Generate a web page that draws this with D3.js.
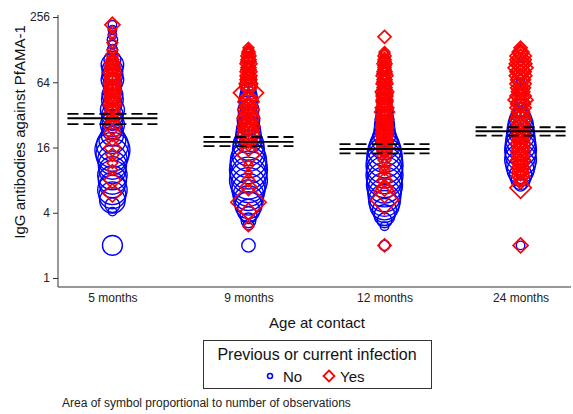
<!DOCTYPE html>
<html>
<head>
<meta charset="utf-8">
<script src="https://cdn.jsdelivr.net/npm/d3@7"></script>
<style>
  body { margin: 0; background: #fff; }
  svg { display: block; font-family: "Liberation Sans", Arial, sans-serif; }
</style>
</head>
<body>
<svg id="chart" width="573" height="414"></svg>
<script>
// Age groups and y-axis ticks
const categories = ["5 months", "9 months", "12 months", "24 months"];
const yTicks = [1, 4, 16, 64, 256];

// Geometric mean titre per age group with its 95% confidence limits
const geoMean = [29.8, 18.0, 15.5, 22.6];
const ciLow   = [26.3, 16.5, 14.1, 20.6];
const ciHigh  = [32.7, 20.0, 17.2, 24.6];

// [titre, number of observations] — no previous or current infection
const noInf5 = [[217,2],[195,2],[175,2],[158,3],[142,2],[127,3],[115,3],[103,8],[92.7,14],[83.3,12],[74.9,12],[67.4,14],[60.6,10],[54.5,8],[49,12],[44,13],[39.6,10],[35.6,16],[32,13],[28.8,12],[25.9,16],[23.3,12],[20.9,14],[18.8,20],[16.9,28],[15.2,34],[13.7,30],[12.3,24],[11,22],[9.9,20],[8.9,24],[8,22],[7.2,18],[6.5,24],[5.8,20],[5.2,18],[4.7,6],[4.1,2],[2,11]];
const noInf9 = [[127,1],[115,1],[103,2],[92.7,2],[83.3,3],[74.9,4],[67.4,6],[60.6,8],[54.5,6],[49,8],[44,10],[39.6,9],[35.6,12],[32,10],[28.8,14],[25.9,12],[23.3,16],[20.9,18],[18.8,20],[16.9,26],[15.2,28],[13.7,30],[12.3,36],[11,38],[9.9,40],[8.9,36],[8,40],[7.2,34],[6.5,30],[5.8,26],[5.2,24],[4.7,20],[4.2,14],[3.8,8],[3.4,6],[3.1,3],[2,5]];
const noInf12 = [[103,1],[92.7,1],[83.3,2],[74.9,2],[67.4,3],[60.6,4],[54.5,4],[49,5],[44,5],[39.6,6],[35.6,7],[32,8],[28.8,10],[25.9,11],[23.3,12],[20.9,14],[18.8,18],[16.9,24],[15.2,30],[13.7,34],[12.3,36],[11,38],[9.9,36],[8.9,38],[8,34],[7.2,36],[6.5,32],[5.8,30],[5.2,28],[4.7,24],[4.2,16],[3.8,12],[3.4,6],[3,2],[2,3]];
const noInf24 = [[103,1],[83.3,2],[67.4,2],[54.5,3],[44,4],[39.6,5],[35.6,6],[32,8],[28.8,14],[25.9,18],[23.3,20],[20.9,22],[18.8,24],[16.9,26],[15.2,28],[13.7,26],[12.3,28],[11,24],[9.9,20],[8.9,14],[8,10],[7.2,4],[2,2]];

// [titre, number of observations] — previous or current infection
const yesInf5 = [[217,4],[195,1],[175,1],[148,2],[127,2],[115,3],[107.5,2],[103,3],[98.8,3],[96.7,4],[92.7,3],[88.8,5],[85,4],[83.3,4],[78.2,6],[74.9,4],[71.8,5],[69,4],[67.4,4],[64.5,5],[61.9,6],[59.3,4],[56.8,5],[54.5,5],[52.2,6],[50,4],[47.9,5],[45.9,5],[44,4],[42.2,4],[40.4,6],[38.7,5],[37.2,3],[35.6,4],[33.4,5],[30,3],[27.6,4],[24.8,5],[21.8,5],[18.8,3],[15.9,5],[13.7,3],[11.5,2],[9.9,2],[8,5],[6.1,6]];
const yesInf9 = [[133,2],[127,2],[122,3],[117,3],[112,4],[107.5,3],[103,4],[98.8,4],[94.6,5],[90.7,3],[86.9,4],[83.3,4],[79.9,5],[76.5,3],[73.3,5],[70.3,4],[67.4,5],[64.5,3],[61.9,6],[59.3,4],[56.8,5],[54.5,3],[51.1,16],[47.9,4],[45.9,6],[44,5],[42.2,8],[40.4,4],[38.7,6],[37.2,5],[35.6,8],[34.1,4],[32.7,7],[31.3,5],[30,9],[28.8,4],[27.6,7],[26.4,5],[25.3,9],[24.3,4],[23.3,8],[22.3,5],[21.4,9],[20.5,4],[19.6,7],[18.8,4],[18,6],[15.9,5],[13.7,9],[11,2],[9.3,1],[8,3],[6.9,5],[5,22],[4.1,5],[3,2]];
const yesInf12 = [[168,3],[122,2],[117,2],[112,3],[107.5,2],[103,3],[98.8,3],[94.6,4],[90.7,3],[86.9,3],[83.3,3],[79.9,4],[76.5,4],[73.3,5],[70.3,3],[67.4,4],[64.5,4],[61.9,5],[59.3,3],[56.8,4],[54.5,4],[52.2,6],[50,5],[47.9,5],[45.9,4],[44,5],[42.2,5],[40.4,4],[38.7,4],[37.2,6],[35.6,5],[34.1,7],[32.7,4],[31.3,5],[30,5],[28.8,6],[27.6,4],[26.4,5],[25.3,5],[24.3,6],[23.3,4],[22.3,5],[21.4,5],[20.5,6],[19.6,4],[18.8,5],[18,5],[17.3,6],[16.6,4],[15.9,5],[15.2,4],[14.6,4],[13.4,4],[12.3,3],[11,3],[9.9,2],[8.9,3],[8,4],[6.8,5],[6.2,8],[5.25,14],[2,3]];
const yesInf24 = [[133,3],[127,2],[122,5],[117,4],[112,8],[107.5,5],[103,8],[98.8,6],[94.6,9],[90.7,5],[86.9,11],[83.3,6],[79.9,8],[76.5,5],[73.3,9],[70.3,6],[67.4,7],[64.5,5],[61.9,8],[59.3,4],[56.8,7],[54.5,5],[52.2,6],[50,4],[47.9,8],[45.9,5],[44,11],[42.2,6],[40.4,7],[38.7,4],[37.2,8],[35.6,5],[34.1,6],[32.7,4],[31.3,7],[30,5],[28.8,8],[27.6,4],[26.4,6],[25.3,5],[24.3,7],[23.3,4],[22.3,6],[21.4,5],[20.5,7],[19.6,4],[18.8,6],[18,5],[17.3,7],[16.6,4],[15.9,6],[15.2,5],[14.6,7],[14,4],[13.4,6],[12.8,5],[12.3,7],[11.8,4],[11.3,5],[10.9,3],[10.4,6],[9.9,4],[9.5,5],[9.1,3],[8.75,6],[8.4,4],[8,3],[7.6,3],[6.8,8],[2,4]];

const noSeries = [noInf5, noInf9, noInf12, noInf24];
const yesSeries = [yesInf5, yesInf9, yesInf12, yesInf24];

const BLUE = "#0000ff", RED = "#ff0000";

const svg = d3.select("#chart");

const x = d3.scalePoint().domain(categories).range([58, 575]).padding(0.4);
const y = d3.scaleLog().base(2).domain([1, 256]).range([278, 17]);
// marker area proportional to the number of observations
const radius = d3.scaleSqrt().domain([0, 1]).range([0, 3]);

function diamondPath(h) {
  return d3.line()([[0, -h], [h, 0], [0, h], [-h, 0]]) + "Z";
}

function flatten(seriesList, status) {
  const out = [];
  seriesList.forEach((s, i) => s.forEach(([titre, n]) => out.push({ group: categories[i], titre, n, status })));
  return out;
}

// Axes
const yAxis = svg.append("g")
  .attr("transform", "translate(58,0)")
  .call(d3.axisLeft(y).tickValues(yTicks).tickFormat(d3.format("d")).tickSize(5).tickPadding(3));
yAxis.select(".domain").remove();
yAxis.selectAll("line").attr("stroke", "#333");
yAxis.selectAll("text").attr("font-size", 12).attr("fill", "#222").attr("font-family", null);

const xAxis = svg.append("g")
  .attr("transform", "translate(0,287)")
  .call(d3.axisBottom(x).tickSize(0).tickPadding(6));
xAxis.select(".domain").remove();
xAxis.selectAll("text").attr("font-size", 12).attr("fill", "#222").attr("font-family", null);

svg.append("line").attr("x1", 58).attr("x2", 58).attr("y1", 15).attr("y2", 287).attr("stroke", "#333");
svg.append("line").attr("x1", 58).attr("x2", 571).attr("y1", 287).attr("y2", 287).attr("stroke", "#333");

// Weighted markers: blue circles first, red diamonds on top
svg.append("g").selectAll("circle")
  .data(flatten(noSeries, "No"))
  .join("circle")
  .attr("cx", d => x(d.group))
  .attr("cy", d => y(d.titre))
  .attr("r", d => radius(d.n))
  .attr("fill", "none")
  .attr("stroke", BLUE)
  .attr("stroke-width", 1.4);

svg.append("g").selectAll("path")
  .data(flatten(yesSeries, "Yes"))
  .join("path")
  .attr("transform", d => `translate(${x(d.group)},${y(d.titre)})`)
  .attr("d", d => diamondPath(radius(d.n) * 1.25))
  .attr("fill", "none")
  .attr("stroke", RED)
  .attr("stroke-width", 1.7);

// Geometric means with confidence limits
const half = 45;
const meanG = svg.append("g").attr("stroke", "#000").attr("stroke-width", 1.8);
meanG.selectAll("line.mean").data(categories).join("line").attr("class", "mean")
  .attr("x1", d => x(d) - half).attr("x2", d => x(d) + half)
  .attr("y1", (d, i) => y(geoMean[i])).attr("y2", (d, i) => y(geoMean[i]));
meanG.selectAll("line.lo").data(categories).join("line").attr("class", "lo")
  .attr("x1", d => x(d) - half).attr("x2", d => x(d) + half)
  .attr("y1", (d, i) => y(ciLow[i])).attr("y2", (d, i) => y(ciLow[i]))
  .attr("stroke-dasharray", "11,5");
meanG.selectAll("line.hi").data(categories).join("line").attr("class", "hi")
  .attr("x1", d => x(d) - half).attr("x2", d => x(d) + half)
  .attr("y1", (d, i) => y(ciHigh[i])).attr("y2", (d, i) => y(ciHigh[i]))
  .attr("stroke-dasharray", "11,5");

// Axis titles
svg.append("text")
  .attr("transform", "translate(25,132) rotate(-90)")
  .attr("text-anchor", "middle").attr("font-size", 15).attr("fill", "#111")
  .text("IgG antibodies against PfAMA-1");
svg.append("text")
  .attr("x", 317).attr("y", 328)
  .attr("text-anchor", "middle").attr("font-size", 15).attr("fill", "#111")
  .text("Age at contact");

// Legend
const leg = svg.append("g");
leg.append("rect").attr("x", 203.5).attr("y", 340.5).attr("width", 228).attr("height", 48)
  .attr("fill", "none").attr("stroke", "#333");
leg.append("text").attr("x", 317).attr("y", 360).attr("text-anchor", "middle")
  .attr("font-size", 16).attr("fill", "#111").text("Previous or current infection");
leg.append("circle").attr("cx", 270).attr("cy", 376).attr("r", 2.5)
  .attr("fill", "none").attr("stroke", BLUE).attr("stroke-width", 1.5);
leg.append("text").attr("x", 283).attr("y", 381.5).attr("font-size", 15).attr("fill", "#111").text("No");
leg.append("path").attr("transform", "translate(329,376)").attr("d", diamondPath(5.5))
  .attr("fill", "none").attr("stroke", RED).attr("stroke-width", 1.8);
leg.append("text").attr("x", 340).attr("y", 381.5).attr("font-size", 15).attr("fill", "#111").text("Yes");

// Note
svg.append("text").attr("x", 62).attr("y", 407).attr("font-size", 12).attr("fill", "#222")
  .text("Area of symbol proportional to number of observations");
</script>
</body>
</html>
